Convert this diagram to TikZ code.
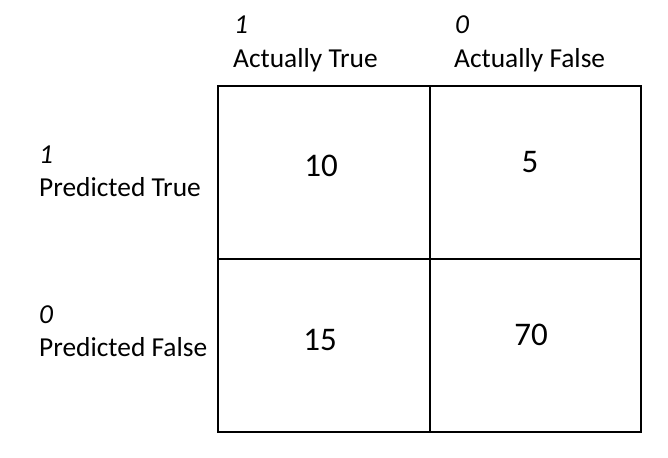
\documentclass[tikz,border=0pt]{standalone}
\usepackage{fontspec}
\setmainfont{Carlito}
\begin{document}
\begin{tikzpicture}[x=1pt,y=-1pt,
  lbl/.style={anchor=base west,inner sep=0pt,font=\fontsize{27.4}{30}\selectfont},
  num/.style={anchor=base,inner sep=0pt,font=\fontsize{33}{36}\selectfont},
  grid/.style={line width=1.6pt,black}]
\useasboundingbox (0,0) rectangle (668,457);
\coordinate (tl) at (218,86);
\coordinate (br) at (641,432);
\coordinate (tm) at (430,86);
\coordinate (bm) at (430,432);
\coordinate (ml) at (218,259);
\coordinate (mr) at (641,259);
\draw[grid] (tl) rectangle (br);
\draw[grid] (tm) -- (bm);
\draw[grid] (ml) -- (mr);
\node[lbl] (c1) at (234,34) {\itshape 1};
\node[lbl] (c1t) at (233,68) {Actually True};
\node[lbl] (c0) at (455,34) {\itshape 0};
\node[lbl] (c0t) at (454,68) {Actually False};
\node[lbl] (r1) at (39,163) {\itshape 1};
\node[lbl] (r1t) at (39,196) {Predicted True};
\node[lbl] (r0) at (39,323) {\itshape 0};
\node[lbl] (r0t) at (39,356) {Predicted False};
\node[num] (n10) at (321,176) {10};
\node[num] (n5) at (530,172) {5};
\node[num] (n15) at (320,350) {15};
\node[num] (n70) at (531,345) {70};
\end{tikzpicture}
\end{document}
